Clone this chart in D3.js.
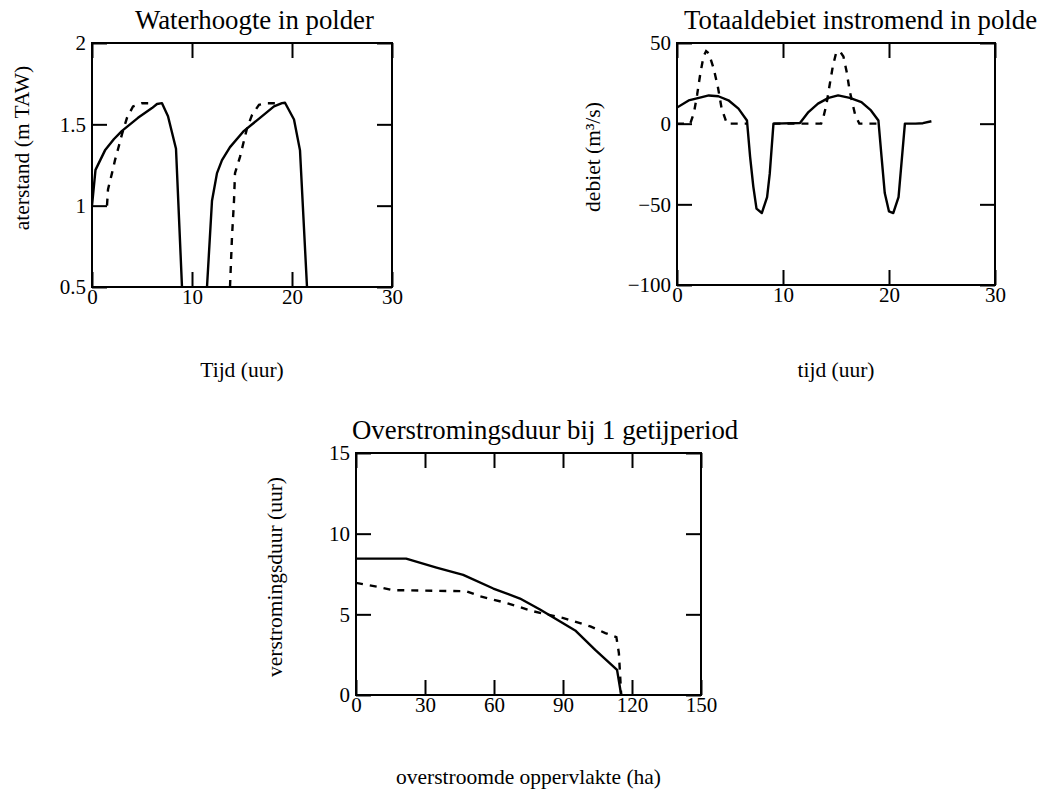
<!DOCTYPE html>
<html>
<head>
<meta charset="utf-8">
<script src="https://cdn.jsdelivr.net/npm/d3@7"></script>
<style>
  body { margin: 0; background: #fff; }
  svg text { font-family: "Liberation Serif", "Times New Roman", serif; fill: #000; }
</style>
</head>
<body>
<div id="chart"></div>
<script>
// panel 1: waterhoogte in polder (t in uur, m TAW)
const hoogteVol = [[0, 1.0], [0.35, 1.22], [1.3, 1.34], [2.2, 1.41], [3.0, 1.46], [4.6, 1.54], [6.0, 1.6], [6.5, 1.625], [7.0, 1.63],
  [7.6, 1.55], [8.0, 1.45], [8.4, 1.35], [9.0, 0.5], null,
  [11.5, 0.5], [12.0, 1.03], [12.5, 1.2], [13.0, 1.28], [13.8, 1.36], [15.2, 1.46], [16.8, 1.54], [18.2, 1.61], [19.0, 1.63], [19.3, 1.633],
  [20.2, 1.53], [20.8, 1.34], [21.5, 0.5]];
const hoogteStip = [[1.5, 1.0], [1.6, 1.1], [2.0, 1.2], [2.3, 1.28], [2.7, 1.37], [3.0, 1.44], [3.5, 1.54], [4.1, 1.61], [5.0, 1.63], [6.3, 1.63], null,
  [13.8, 0.5], [14.0, 0.81], [14.2, 1.03], [14.3, 1.2], [14.8, 1.3], [15.2, 1.4], [15.5, 1.475], [16.0, 1.557], [16.7, 1.62], [17.5, 1.63], [18.5, 1.63]];

// panel 2: totaaldebiet (m3/s)
const debietVol = [[0, 10], [1.1, 14.4], [2.35, 16.5], [3.0, 17.5], [3.9, 17], [4.85, 14.5], [5.8, 9.3], [6.6, 2], [6.9, -20.7], [7.2, -39],
  [7.5, -52.7], [8.0, -55.4], [8.5, -45.5], [8.75, -31], [9.1, 0], [11.6, 0.4], [12.4, 7.2], [13.3, 12.4], [14.3, 16], [15.2, 17.5],
  [16.3, 16], [17.4, 13.4], [18.3, 8.2], [19.0, 2], [19.3, -20.7], [19.6, -43], [20.0, -54.4], [20.4, -55.4], [20.9, -45.5], [21.5, 0],
  [22.5, 0], [23.2, 0.3], [24.0, 1.5]];
const debietStip = [[0, 0], [1.25, 0], [1.6, 6.8], [1.9, 18], [2.2, 31], [2.5, 41.6], [2.75, 45], [3.0, 43.6], [3.45, 34.4], [3.85, 23],
  [4.2, 9.8], [4.7, 0], [6.6, 0], null,
  [9.1, 0], [13.6, 0], [13.8, 3.7], [14.1, 12], [14.4, 24], [14.7, 35.5], [15.0, 43.6], [15.35, 45], [15.7, 41.6], [16.0, 32.4],
  [16.3, 20], [16.8, 5.7], [17.2, 0], [19.0, 0]];

// panel 3: overstromingsduur vs overstroomde oppervlakte
const duurVol = [[0, 8.45], [21.8, 8.45], [35, 7.9], [46.6, 7.45], [59.7, 6.6], [71.3, 5.98], [80, 5.3], [95.3, 4.0], [104, 2.8], [113.5, 1.56], [115.3, 0]];
const duurStip = [[0, 6.95], [9.5, 6.7], [16, 6.5], [48, 6.43], [53.9, 6.12], [65.5, 5.7], [77, 5.19], [90.2, 4.77], [101.9, 4.25],
  [108.4, 3.84], [113.2, 3.59], [114.3, 2.6], [114.7, 1.56], [115.3, 0]];

const tijdTicks = [0, 10, 20, 30];
const hoogteTicks = [0.5, 1, 1.5, 2];
const debietTicks = [-100, -50, 0, 50];
const oppTicks = [0, 30, 60, 90, 120, 150];
const duurTicks = [0, 5, 10, 15];

const w = 1037;
const h = 795;

const svg = d3.select("#chart")
  .append("svg")
  .attr("width", w)
  .attr("height", h);

function panel(cfg) {
  const x = d3.scaleLinear().domain(cfg.xDomain).range([cfg.left, cfg.right]);
  const y = d3.scaleLinear().domain(cfg.yDomain).range([cfg.bottom, cfg.top]);
  const g = svg.append("g");
  const tick = 15;

  g.append("clipPath").attr("id", cfg.id)
    .append("rect")
    .attr("x", cfg.left).attr("y", cfg.top)
    .attr("width", cfg.right - cfg.left).attr("height", cfg.bottom - cfg.top);

  const axes = [
    [d3.axisBottom(x).tickValues(cfg.xTicks).tickFormat(d3.format("")), `translate(0,${cfg.bottom})`],
    [d3.axisTop(x).tickValues(cfg.xTicks).tickFormat(""), `translate(0,${cfg.top})`],
    [d3.axisLeft(y).tickValues(cfg.yTicks).tickFormat(d3.format("")), `translate(${cfg.left},0)`],
    [d3.axisRight(y).tickValues(cfg.yTicks).tickFormat(""), `translate(${cfg.right},0)`]
  ];
  axes.forEach(function (a, i) {
    const ax = g.append("g")
      .attr("transform", a[1])
      .call(a[0].tickSize(-tick).tickSizeOuter(0).tickPadding(i == 0 ? 2 : 6));
    ax.select(".domain").remove();
    ax.selectAll("line").attr("stroke", "#000").attr("stroke-width", 2);
    ax.selectAll("text").style("font-size", "21px").style("font-family", "Liberation Serif");
  });

  g.append("rect")
    .attr("x", cfg.left).attr("y", cfg.top)
    .attr("width", cfg.right - cfg.left).attr("height", cfg.bottom - cfg.top)
    .attr("fill", "none").attr("stroke", "#000").attr("stroke-width", 2);

  const line = d3.line()
    .defined((d) => d != null)
    .x((d) => x(d[0]))
    .y((d) => y(d[1]));

  g.append("path").datum(cfg.vol)
    .attr("clip-path", `url(#${cfg.id})`)
    .attr("d", line)
    .attr("fill", "none").attr("stroke", "#000").attr("stroke-width", 2.4)
    .attr("stroke-linejoin", "round");

  g.append("path").datum(cfg.stip)
    .attr("clip-path", `url(#${cfg.id})`)
    .attr("d", line)
    .attr("fill", "none").attr("stroke", "#000").attr("stroke-width", 2.4)
    .attr("stroke-dasharray", "7,7");

  g.append("text")
    .attr("x", cfg.titleX).attr("y", cfg.titleY)
    .style("font-size", "26.8px")
    .text(cfg.title);

  g.append("text")
    .attr("x", (cfg.left + cfg.right) / 2).attr("y", cfg.xLabelY)
    .attr("text-anchor", "middle")
    .style("font-size", "21.5px")
    .text(cfg.xLabel);

  g.append("text")
    .attr("transform", `translate(${cfg.yLabelX},${cfg.yLabelY}) rotate(-90)`)
    .attr("text-anchor", "middle")
    .style("font-size", "21.5px")
    .text(cfg.yLabel);
}

panel({
  id: "c1", left: 92, right: 392, top: 43, bottom: 287,
  xDomain: [0, 30], yDomain: [0.5, 2], xTicks: tijdTicks, yTicks: hoogteTicks,
  vol: hoogteVol, stip: hoogteStip,
  title: "Waterhoogte in polder", titleX: 135, titleY: 29,
  xLabel: "Tijd (uur)", xLabelY: 377,
  yLabel: "aterstand (m TAW)", yLabelX: 29, yLabelY: 148
});

panel({
  id: "c2", left: 677, right: 995, top: 43, bottom: 285,
  xDomain: [0, 30], yDomain: [-100, 50], xTicks: tijdTicks, yTicks: debietTicks,
  vol: debietVol, stip: debietStip,
  title: "Totaaldebiet instromend in polde", titleX: 684, titleY: 29,
  xLabel: "tijd (uur)", xLabelY: 377,
  yLabel: "debiet (m³/s)", yLabelX: 600, yLabelY: 157
});

panel({
  id: "c3", left: 356, right: 701, top: 453, bottom: 695,
  xDomain: [0, 150], yDomain: [0, 15], xTicks: oppTicks, yTicks: duurTicks,
  vol: duurVol, stip: duurStip,
  title: "Overstromingsduur bij 1 getijperiod", titleX: 352, titleY: 439,
  xLabel: "overstroomde oppervlakte (ha)", xLabelY: 784,
  yLabel: "verstromingsduur (uur)", yLabelX: 282, yLabelY: 577
});
</script>
</body>
</html>
